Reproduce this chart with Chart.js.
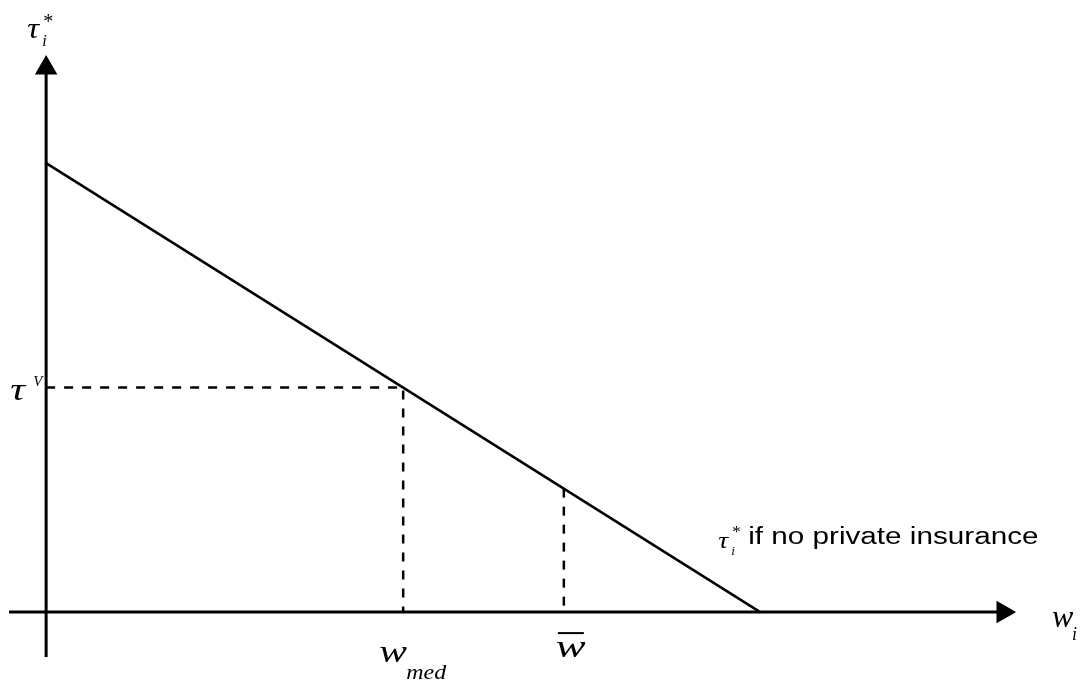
<!DOCTYPE html>
<html>
<head>
<meta charset="utf-8">
<script src="https://cdn.jsdelivr.net/npm/chart.js@4/dist/chart.umd.min.js"></script>
<style>
  html, body { margin: 0; padding: 0; background: #fff; }
  #wrap { width: 1085px; height: 684px; }
</style>
</head>
<body>
<div id="wrap"><canvas id="chart" width="1085" height="684"></canvas></div>
<script>
// Schedule tau*_i(w_i), normalised so the intercept and the zero point are both 1
const curveW = [0, 1];
const curveTau = [1, 0];

// marked points
const wMed = 0.5;
const tauV = 0.5;
const wBar = 0.725;
const tauAtWBar = 0.275;

// axis extents (data units)
const xRange = [-0.052, 1.354];
const yRange = [-0.1, 1.234];
const xArrowAt = 1.34;
const yArrowAt = 1.212;

const INK = '#000';

function pts(xs, ys) {
  return xs.map((x, i) => ({ x, y: ys[i] }));
}

// math-style labels drawn on top, anchored to the scales
const labelPlugin = {
  id: 'mathLabels',
  afterDatasetsDraw(chart) {
    const { ctx, scales: { x, y } } = chart;
    const px = v => x.getPixelForValue(v);
    const py = v => y.getPixelForValue(v);
    const serif = '"Liberation Serif", "Times New Roman", serif';
    const it = size => `italic ${size}px ${serif}`;
    // text with a horizontal stretch, like the equation objects in the original
    const txt = (s, left, base, font, sx = 1) => {
      ctx.save();
      ctx.font = font;
      ctx.translate(left, base);
      ctx.scale(sx, 1);
      ctx.fillText(s, 0, 0);
      ctx.restore();
    };
    ctx.save();
    ctx.fillStyle = INK;
    ctx.textBaseline = 'alphabetic';
    ctx.textAlign = 'left';

    const ax = px(0);
    const x0 = py(0);

    // y axis title: tau_i^*
    txt('\u03C4', ax - 19, 38, it(30), 1.1);
    txt('i', ax - 4, 46, it(16));
    txt('*', ax - 3, 28, `20px ${serif}`);

    // tau^V
    const vy = py(tauV);
    txt('\u03C4', ax - 36, vy + 12, it(32), 1.3);
    txt('V', ax - 13, vy - 2, it(15));

    // w_med
    const mx = px(wMed);
    txt('w', mx - 24, x0 + 50, it(32), 1.3);
    txt('med', mx + 3, x0 + 67, it(20), 1.2);

    // w bar
    const bx = px(wBar);
    txt('w', bx - 8, x0 + 45, it(32), 1.4);
    ctx.fillRect(bx - 6, x0 + 20, 26, 2);

    // w_i at the end of the x axis
    const ex = px(xRange[1]);
    txt('w', ex + 39, x0 + 15, it(32));
    txt('i', ex + 59, x0 + 28, it(18));

    // curve label
    const lx = px(curveW[1]);
    txt('\u03C4', lx - 42, x0 - 64, it(23), 1.2);
    txt('i', lx - 29, x0 - 57, it(13));
    txt('*', lx - 28, x0 - 75, `17px ${serif}`);
    txt('if no private insurance', lx - 12, x0 - 68, '23px "Liberation Sans", Arial, sans-serif', 1.29);

    ctx.restore();
  }
};

new Chart(document.getElementById('chart'), {
  type: 'scatter',
  data: {
    datasets: [
      {
        // x axis with arrow
        data: pts([xRange[0], xArrowAt], [0, 0]),
        showLine: true,
        borderColor: INK,
        backgroundColor: INK,
        borderWidth: 3,
        pointRadius: [0, 10],
        pointStyle: 'triangle',
        rotation: 90,
        clip: false
      },
      {
        // y axis with arrow
        data: pts([0, 0], [yRange[0], yArrowAt]),
        showLine: true,
        borderColor: INK,
        backgroundColor: INK,
        borderWidth: 3,
        pointRadius: [0, 10],
        pointStyle: 'triangle',
        rotation: 0,
        clip: false
      },
      {
        // tau* schedule
        data: pts(curveW, curveTau),
        showLine: true,
        borderColor: INK,
        borderWidth: 2.5,
        pointRadius: 0,
        clip: false
      },
      {
        data: pts([0, wMed, wMed], [tauV, tauV, 0]),
        showLine: true,
        borderColor: INK,
        borderWidth: 2.5,
        borderDash: [9, 9],
        pointRadius: 0,
        clip: false
      },
      {
        data: pts([wBar, wBar], [tauAtWBar, 0]),
        showLine: true,
        borderColor: INK,
        borderWidth: 2.5,
        borderDash: [9, 9],
        pointRadius: 0,
        clip: false
      }
    ]
  },
  options: {
    responsive: false,
    animation: false,
    layout: { autoPadding: false, padding: { left: 9, right: 72, top: 58, bottom: 27 } },
    scales: {
      x: { type: 'linear', min: xRange[0], max: xRange[1], display: false },
      y: { type: 'linear', min: yRange[0], max: yRange[1], display: false }
    },
    plugins: {
      legend: { display: false },
      tooltip: { enabled: false }
    }
  },
  plugins: [labelPlugin]
});
</script>
</body>
</html>
